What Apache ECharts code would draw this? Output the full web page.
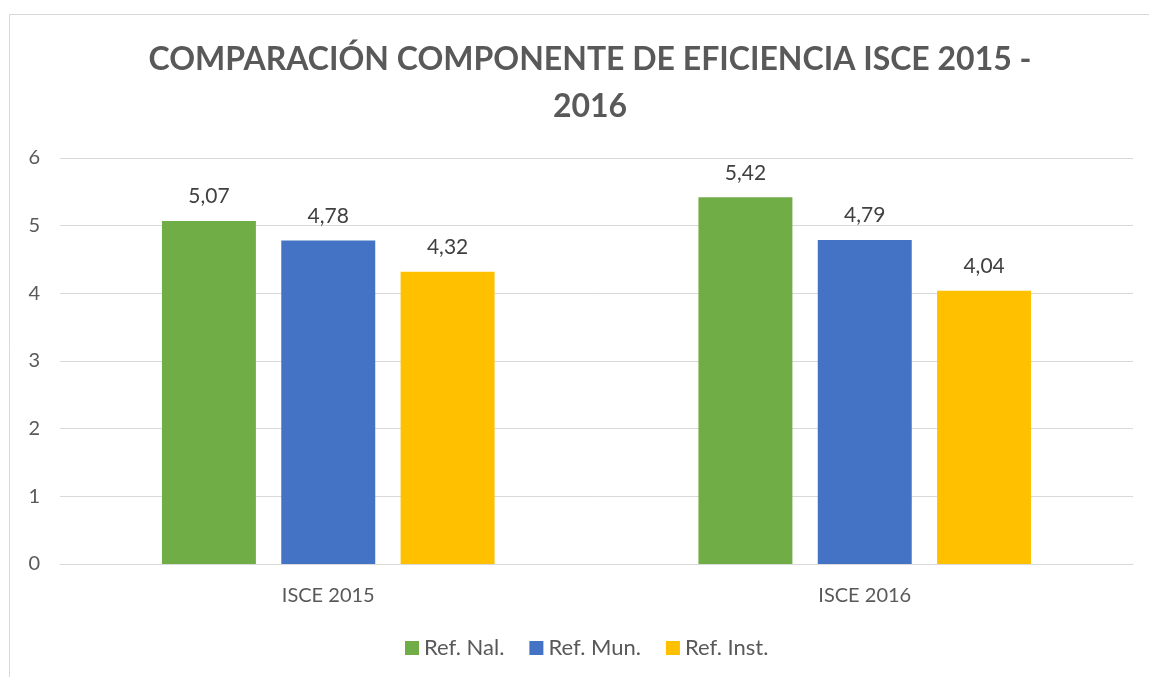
<!DOCTYPE html>
<html>
<head>
<meta charset="utf-8">
<script src="https://cdn.jsdelivr.net/npm/echarts@6/dist/echarts.min.js"></script>
<style>
  html, body { margin: 0; padding: 0; background: #fff; }
  #chart { width: 1149px; height: 677px; }
</style>
</head>
<body>
<div id="chart"></div>
<script>
var categories = ['ISCE 2015', 'ISCE 2016'];
var refNal = [5.07, 5.42];
var refMun = [4.78, 4.79];
var refInst = [4.32, 4.04];
var seriesNames = ['Ref. Nal.', 'Ref. Mun.', 'Ref. Inst.'];

var chart = echarts.init(document.getElementById('chart'));

function fmt(p) {
    return p.value.toFixed(2).replace('.', ',');
}

var labelStyle = {
    show: true,
    position: 'top',
    distance: 14,
    color: '#404040',
    fontSize: 21,
    fontFamily: 'Lato',
    formatter: fmt
};

var option = {
    backgroundColor: '#fff',
    textStyle: { fontFamily: 'Lato' },
    graphic: [{
        type: 'rect',
        shape: { x: 9.5, y: 14.5, width: 1200, height: 700 },
        style: { fill: 'none', stroke: '#d9d9d9', lineWidth: 1 },
        silent: true
    }],
    title: {
        text: 'COMPARACIÓN COMPONENTE DE EFICIENCIA ISCE 2015 -\n2016',
        left: 585,
        top: 31,
        textAlign: 'center',
        textStyle: {
            color: '#595959',
            fontSize: 32,
            fontWeight: 'bold',
            fontFamily: 'Lato',
            lineHeight: 47
        }
    },
    legend: {
        data: seriesNames,
        bottom: 13,
        left: 400,
        itemWidth: 14,
        itemHeight: 14,
        itemGap: 25,
        icon: 'rect',
        textStyle: { color: '#595959', fontSize: 22, fontFamily: 'Lato' }
    },
    grid: {
        left: 60,
        right: 16,
        top: 158,
        bottom: 113
    },
    xAxis: {
        type: 'category',
        data: categories,
        axisLine: { lineStyle: { color: '#d9d9d9' } },
        axisTick: { show: false },
        axisLabel: { color: '#595959', fontSize: 20, margin: 22 }
    },
    yAxis: {
        type: 'value',
        min: 0,
        max: 6,
        interval: 1,
        axisLine: { show: false },
        axisTick: { show: false },
        splitLine: { lineStyle: { color: '#d9d9d9' } },
        axisLabel: { color: '#595959', fontSize: 20, margin: 20 }
    },
    series: [
        {
            name: seriesNames[0],
            type: 'bar',
            data: refNal,
            itemStyle: { color: '#70AD47' },
            barGap: '27%',
            barCategoryGap: '38%',
            label: labelStyle
        },
        {
            name: seriesNames[1],
            type: 'bar',
            data: refMun,
            itemStyle: { color: '#4472C4' },
            label: labelStyle
        },
        {
            name: seriesNames[2],
            type: 'bar',
            data: refInst,
            itemStyle: { color: '#FFC000' },
            label: labelStyle
        }
    ]
};

chart.setOption(option);
window.onresize = chart.resize;
</script>
</body>
</html>
